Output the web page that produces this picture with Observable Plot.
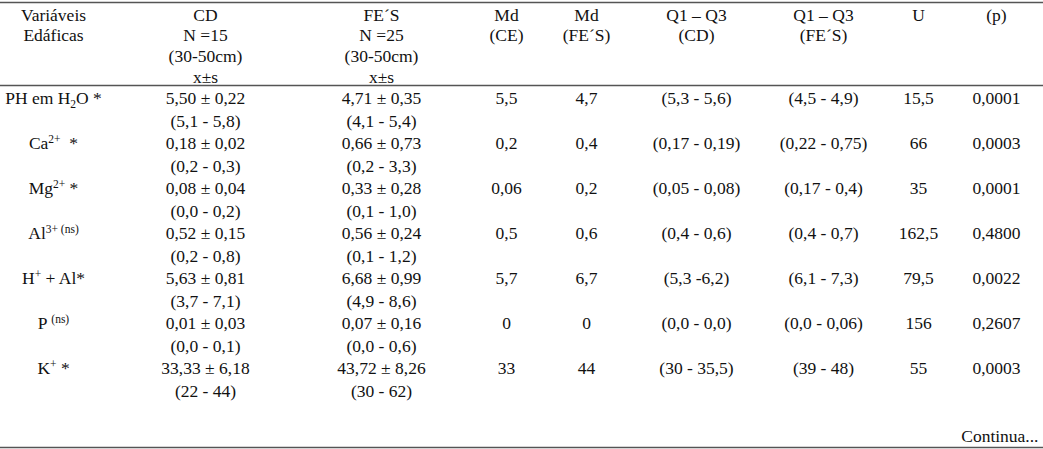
<!DOCTYPE html>
<html><head><meta charset="utf-8">
<script src="https://cdn.jsdelivr.net/npm/d3@7"></script>
<script src="https://cdn.jsdelivr.net/npm/@observablehq/plot@0.6"></script>
<style>
body{margin:0;background:#fff}
svg, svg text, svg tspan {font-family: "Liberation Serif", "Times New Roman", Times, serif !important;}
</style>
</head><body><div id="chart"></div>
<script>
// ---- table content ----
const variables = ["PH em H_{2}O *", "Ca^{2+}  *", "Mg^{2+} *", "Al^{3+ (ns)}", "H^{+} + Al*", "P ^{(ns)}", "K^{+} *"];
const cdMeanSd  = ["5,50 ± 0,22", "0,18 ± 0,02", "0,08 ± 0,04", "0,52 ± 0,15", "5,63 ± 0,81", "0,01 ± 0,03", "33,33 ± 6,18"];
const cdRange   = ["(5,1 - 5,8)", "(0,2 - 0,3)", "(0,0 - 0,2)", "(0,2 - 0,8)", "(3,7 - 7,1)", "(0,0 - 0,1)", "(22 - 44)"];
const fesMeanSd = ["4,71 ± 0,35", "0,66 ± 0,73", "0,33 ± 0,28", "0,56 ± 0,24", "6,68 ± 0,99", "0,07 ± 0,16", "43,72 ± 8,26"];
const fesRange  = ["(4,1 - 5,4)", "(0,2 - 3,3)", "(0,1 - 1,0)", "(0,1 - 1,2)", "(4,9 - 8,6)", "(0,0 - 0,6)", "(30 - 62)"];
const mdCE      = ["5,5", "0,2", "0,06", "0,5", "5,7", "0", "33"];
const mdFES     = ["4,7", "0,4", "0,2", "0,6", "6,7", "0", "44"];
const q13CD     = ["(5,3 - 5,6)", "(0,17 - 0,19)", "(0,05 - 0,08)", "(0,4 - 0,6)", "(5,3 -6,2)", "(0,0 - 0,0)", "(30 - 35,5)"];
const q13FES    = ["(4,5 - 4,9)", "(0,22 - 0,75)", "(0,17 - 0,4)", "(0,4 - 0,7)", "(6,1 - 7,3)", "(0,0 - 0,06)", "(39 - 48)"];
const uValues   = ["15,5", "66", "35", "162,5", "79,5", "156", "55"];
const pValues   = ["0,0001", "0,0003", "0,0001", "0,4800", "0,0022", "0,2607", "0,0003"];
const headers = [
  ["Variáveis", "Edáficas"],
  ["CD", "N =15", "(30-50cm)", "x±s"],
  ["FE´S", "N =25", "(30-50cm)", "x±s"],
  ["Md", "(CE)"],
  ["Md", "(FE´S)"],
  ["Q1 – Q3", "(CD)"],
  ["Q1 – Q3", "(FE´S)"],
  ["U"],
  ["(p)"]
];
const footnote = "Continua...";

// ---- build cells (column index, line index, text) ----
const cells = [];
headers.forEach((lines, col) => lines.forEach((t, i) => cells.push({col, line: i, text: t})));
const mainCols = [variables, cdMeanSd, fesMeanSd, mdCE, mdFES, q13CD, q13FES, uValues, pValues];
variables.forEach((_, r) => {
  mainCols.forEach((arr, col) => cells.push({col, line: 4 + 2 * r, text: arr[r]}));
  cells.push({col: 1, line: 5 + 2 * r, text: cdRange[r]});
  cells.push({col: 2, line: 5 + 2 * r, text: fesRange[r]});
});
const footCells = [{col: 9, line: 19, text: footnote}];

const FS = 17.5;
const FONT = "Liberation Serif";
const chart = Plot.plot({
  width: 1043, height: 449, margin: 0,
  x: {type: "linear", domain: [0,1,2,3,4,5,6,7,8,9], range: [53,205,381,506,586,696,823,918,996,1038], axis: null},
  y: {type: "linear", domain: [-0.6, 3, 4, 19.5], range: [2, 77, 98, 447], axis: null},
  style: {fontSize: FS + "px", background: "#fff", color: "#111"},
  marks: [
    Plot.ruleY([-0.6, 3.38, 19.5], {stroke: "#555", strokeWidth: 1.3}),
    Plot.text(cells, {x: "col", y: "line", text: "text", fontSize: FS, fontFamily: FONT, fill: "#111", textAnchor: "middle", lineAnchor: "middle"}),
    Plot.text(footCells, {x: "col", y: "line", text: "text", fontSize: FS, fontFamily: FONT, fill: "#111", textAnchor: "end", lineAnchor: "middle"})
  ]
});
chart.setAttribute("xml:space", "preserve");
document.getElementById("chart").append(chart);

// ---- render ^{..} superscripts and _{..} subscripts as tspans ----
const NS = "http://www.w3.org/2000/svg";
chart.querySelectorAll("text").forEach(t => {
  const s = t.textContent;
  if (!/[\^_]\{/.test(s)) return;
  while (t.firstChild) t.removeChild(t.firstChild);
  const re = /([\^_])\{([^}]*)\}/g;
  let last = 0, m, offset = 0;
  const add = (str, shift, small) => {
    if (!str) return;
    const sp = document.createElementNS(NS, "tspan");
    sp.textContent = str;
    const dy = shift - offset;
    if (dy) sp.setAttribute("dy", dy);
    offset = shift;
    if (small) sp.setAttribute("font-size", small);
    t.appendChild(sp);
  };
  while ((m = re.exec(s))) {
    add(s.slice(last, m.index), 0, null);
    if (m[1] === "^") add(m[2], -FS * 0.34, 11.5);
    else add(m[2], FS * 0.22, 11.5);
    last = re.lastIndex;
  }
  add(s.slice(last), 0, null);
});
</script>
</body></html>
